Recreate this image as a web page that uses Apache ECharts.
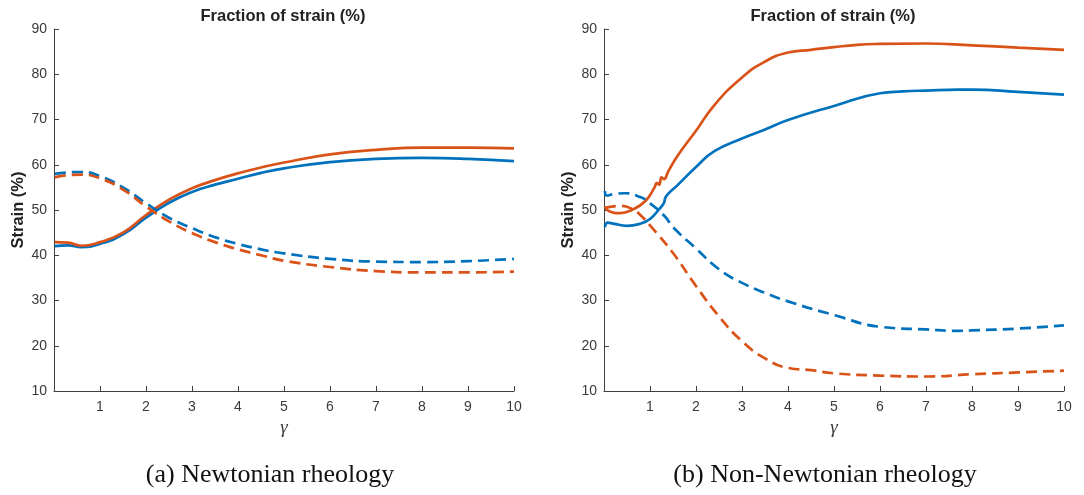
<!DOCTYPE html>
<html>
<head>
<meta charset="utf-8">
<script src="https://cdn.jsdelivr.net/npm/echarts@6/dist/echarts.min.js"></script>
<style>
  html, body { margin: 0; padding: 0; background: #ffffff; }
  #chart { width: 1084px; height: 495px; }
</style>
</head>
<body>
<div id="chart"></div>
<script>
// ---- Panel (a): Newtonian rheology ----
const newtGamma = [0.02, 0.3, 0.6, 1, 1.5, 2, 2.5, 3, 3.5, 4, 4.5, 5, 6, 7, 8, 9, 10];
const newtSolidBlue   = [42.0, 42.2, 41.8, 42.5, 44.6, 48.3, 51.6, 54.0, 55.6, 56.9, 58.2, 59.2, 60.6, 61.3, 61.5, 61.3, 60.8];
const newtSolidOrange = [42.9, 42.8, 42.1, 42.9, 45.0, 48.9, 52.3, 54.8, 56.6, 58.1, 59.4, 60.5, 62.3, 63.3, 63.8, 63.8, 63.6];
const newtDashBlue    = [58.0, 58.3, 58.4, 57.5, 55.0, 51.5, 48.3, 46.0, 44.0, 42.5, 41.3, 40.4, 39.2, 38.6, 38.5, 38.7, 39.2];
const newtDashOrange  = [57.2, 57.7, 57.8, 57.0, 54.5, 50.8, 47.5, 44.9, 42.9, 41.3, 40.0, 38.8, 37.4, 36.5, 36.2, 36.2, 36.4];

// ---- Panel (b): Non-Newtonian rheology ----
const nonSolidOrangeGamma = [0.02, 0.1, 0.35, 0.6, 0.9, 1.1, 1.15, 1.2, 1.25, 1.3, 1.4, 1.6, 2, 2.4, 3, 3.5, 4, 4.5, 5, 5.5, 6, 7, 8, 9, 10];
const nonSolidOrange      = [50.8, 49.8, 49.3, 50.0, 52.0, 55.0, 56.0, 55.6, 57.2, 56.8, 58.6, 62.0, 67.5, 73.2, 79.3, 82.8, 84.8, 85.4, 86.0, 86.5, 86.7, 86.8, 86.4, 85.9, 85.4];

const nonSolidBlueGamma = [0.02, 0.08, 0.2, 0.5, 0.8, 1.0, 1.2, 1.3, 1.35, 1.6, 2, 2.4, 3, 3.5, 4, 5, 6, 6.5, 7, 7.7, 8, 9, 10];
const nonSolidBlue      = [46.2, 47.2, 47.0, 46.5, 47.0, 48.0, 50.2, 51.5, 53.0, 55.5, 59.5, 63.0, 65.8, 67.8, 69.9, 73.0, 75.8, 76.2, 76.4, 76.6, 76.6, 76.1, 75.5];

const nonDashOrangeGamma = [0.02, 0.35, 0.6, 0.8, 1.0, 1.5, 2, 2.5, 3, 3.5, 4, 4.5, 5, 6, 7, 8, 9, 10];
const nonDashOrange      = [50.5, 50.9, 50.3, 48.8, 46.6, 40.5, 33.2, 26.5, 21.0, 17.2, 15.1, 14.6, 13.9, 13.4, 13.2, 13.7, 14.1, 14.5];

const nonDashBlueGamma = [0.02, 0.06, 0.2, 0.45, 0.8, 1.0, 1.33, 1.5, 2, 2.5, 3, 3.5, 4, 5, 6, 7, 7.7, 8, 9, 10];
const nonDashBlue      = [54.2, 53.2, 53.5, 53.7, 52.8, 51.5, 48.5, 46.2, 41.5, 36.9, 33.9, 31.7, 29.8, 26.8, 24.2, 23.6, 23.3, 23.4, 23.8, 24.5];

// ---- Axis ticks and text ----
const xTicks = { min: 0, max: 10, interval: 1 };
const yTicks = { min: 10, max: 90, interval: 10 };
const panelTitle = 'Fraction of strain (%)';
const yName = 'Strain (%)';
const xName = 'γ';
const captions = ['(a) Newtonian rheology', '(b) Non-Newtonian rheology'];

const BLUE = '#0072BD';
const ORANGE = '#D95319';
const AXIS = '#404040';
const TEXT = '#3a3a3a';

const pairs = (xs, ys) => xs.map((x, i) => [x, ys[i]]);

function xAxisFor(gridIndex) {
  return {
    type: 'value', gridIndex,
    min: xTicks.min, max: xTicks.max, interval: xTicks.interval,
    name: xName, nameLocation: 'middle', nameGap: 26,
    nameTextStyle: { fontFamily: 'Liberation Serif', fontStyle: 'italic', fontSize: 19, color: TEXT },
    axisLine: { show: true, onZero: false, lineStyle: { color: AXIS, width: 1 } },
    axisTick: { show: true, inside: true, length: 5, lineStyle: { color: AXIS } },
    axisLabel: { color: TEXT, fontFamily: 'Liberation Sans', fontSize: 14, margin: 9,
                 formatter: v => (v === 0 ? '' : String(v)) },
    splitLine: { show: false }
  };
}

function yAxisFor(gridIndex) {
  return {
    type: 'value', gridIndex,
    min: yTicks.min, max: yTicks.max, interval: yTicks.interval,
    name: yName, nameLocation: 'middle', nameGap: 27,
    nameTextStyle: { fontFamily: 'Liberation Sans', fontWeight: 'bold', fontSize: 16.5, color: '#222222' },
    axisLine: { show: true, onZero: false, lineStyle: { color: AXIS, width: 1 } },
    axisTick: { show: true, inside: true, length: 5, lineStyle: { color: AXIS } },
    axisLabel: { color: TEXT, fontFamily: 'Liberation Sans', fontSize: 14, margin: 7 },
    splitLine: { show: false }
  };
}

function line(idx, data, color, dashed) {
  return {
    type: 'line', xAxisIndex: idx, yAxisIndex: idx,
    data, showSymbol: false, symbol: 'none',
    smooth: 0.5,
    lineStyle: { color, width: 2.7, type: dashed ? [11, 6] : 'solid', cap: 'butt' },
    z: dashed ? 3 : 2,
    animation: false
  };
}

const chart = echarts.init(document.getElementById('chart'), null, { renderer: 'canvas' });

chart.setOption({
  animation: false,
  backgroundColor: '#ffffff',
  grid: [
    { left: 54, top: 29, width: 460, height: 362 },
    { left: 604, top: 29, width: 460, height: 362 }
  ],
  xAxis: [xAxisFor(0), xAxisFor(1)],
  yAxis: [yAxisFor(0), yAxisFor(1)],
  series: [
    line(0, pairs(newtGamma, newtSolidBlue), BLUE, false),
    line(0, pairs(newtGamma, newtSolidOrange), ORANGE, false),
    line(0, pairs(newtGamma, newtDashBlue), BLUE, true),
    line(0, pairs(newtGamma, newtDashOrange), ORANGE, true),
    line(1, pairs(nonSolidBlueGamma, nonSolidBlue), BLUE, false),
    line(1, pairs(nonSolidOrangeGamma, nonSolidOrange), ORANGE, false),
    line(1, pairs(nonDashBlueGamma, nonDashBlue), BLUE, true),
    line(1, pairs(nonDashOrangeGamma, nonDashOrange), ORANGE, true)
  ],
  graphic: [
    { type: 'text', x: 283, y: 16, style: { text: panelTitle, textAlign: 'center', textVerticalAlign: 'middle',
      font: 'bold 16.5px "Liberation Sans"', fill: '#222222' } },
    { type: 'text', x: 833, y: 16, style: { text: panelTitle, textAlign: 'center', textVerticalAlign: 'middle',
      font: 'bold 16.5px "Liberation Sans"', fill: '#222222' } },
    { type: 'text', x: 270, y: 475, style: { text: captions[0], textAlign: 'center', textVerticalAlign: 'middle',
      font: '26px "Liberation Serif"', fill: '#111111' } },
    { type: 'text', x: 825, y: 475, style: { text: captions[1], textAlign: 'center', textVerticalAlign: 'middle',
      font: '26px "Liberation Serif"', fill: '#111111' } }
  ]
});
</script>
</body>
</html>
